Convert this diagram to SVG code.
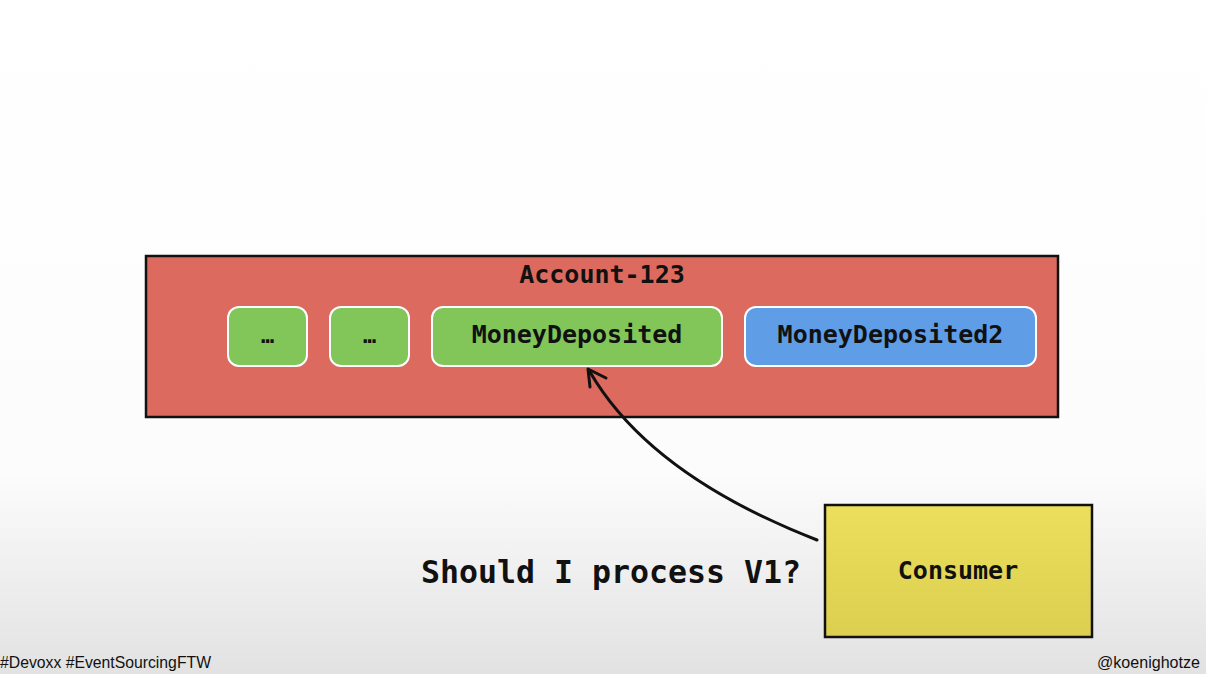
<svg xmlns="http://www.w3.org/2000/svg" width="1206" height="674" viewBox="0 0 1206 674">
<defs>
<linearGradient id="bg" x1="0" y1="0" x2="0" y2="1">
<stop offset="0" stop-color="#ffffff"/>
<stop offset="0.7" stop-color="#fcfcfc"/>
<stop offset="1" stop-color="#e2e2e2"/>
</linearGradient>
<linearGradient id="yel" x1="0" y1="0" x2="0" y2="1">
<stop offset="0" stop-color="#ebdf5c"/>
<stop offset="1" stop-color="#dccf50"/>
</linearGradient>
<style>
.mono{font-family:"DejaVu Sans Mono","Liberation Mono",monospace;font-weight:bold;fill:#111;text-anchor:middle}
.ev{stroke:#ffffff;stroke-width:2}
.green{fill:#82c65a}
.blue{fill:#5f9de6}
.foot{font-family:"Liberation Sans","DejaVu Sans",sans-serif;font-size:17px;fill:#111}
</style>
</defs>
<rect x="0" y="0" width="1206" height="674" fill="url(#bg)"/>
<g id="account">
<rect x="146" y="256" width="912" height="161" fill="#dc6a5e" stroke="#111" stroke-width="2.5"/>
<text class="mono" x="602" y="283" font-size="25">Account-123</text>
</g>
<g id="ev1">
<rect class="ev green" x="228" y="307" width="79" height="59" rx="11"/>
<text class="mono" x="267.5" y="343" font-size="22">…</text>
</g>
<g id="ev2">
<rect class="ev green" x="330" y="307" width="79" height="59" rx="11"/>
<text class="mono" x="369.5" y="343" font-size="22">…</text>
</g>
<g id="ev3">
<rect class="ev green" x="432" y="307" width="290" height="59" rx="11"/>
<text class="mono" x="577" y="343" font-size="25">MoneyDeposited</text>
</g>
<g id="ev4">
<rect class="ev blue" x="745" y="307" width="291" height="59" rx="11"/>
<text class="mono" x="890.5" y="343" font-size="25">MoneyDeposited2</text>
</g>
<g id="consumer">
<rect x="825" y="505" width="267" height="132" fill="url(#yel)" stroke="#111" stroke-width="2.5"/>
<text class="mono" x="958" y="579" font-size="25">Consumer</text>
</g>
<g id="connectors" fill="none" stroke="#111" stroke-width="3" stroke-linecap="round" stroke-linejoin="round">
<path d="M 817 540 Q 650 475 590 372"/>
<path d="M 590 387 L 588 369 L 606 378"/>
</g>
<g id="labels">
<text class="mono" x="421" y="583" font-size="32" text-anchor="start" style="text-anchor:start" textLength="380" lengthAdjust="spacingAndGlyphs">Should I process V1?</text>
<text class="foot" x="0" y="668" textLength="211" lengthAdjust="spacingAndGlyphs">#Devoxx #EventSourcingFTW</text>
<text class="foot" x="1200" y="668" text-anchor="end" textLength="103" lengthAdjust="spacingAndGlyphs">@koenighotze</text>
</g>
</svg>
